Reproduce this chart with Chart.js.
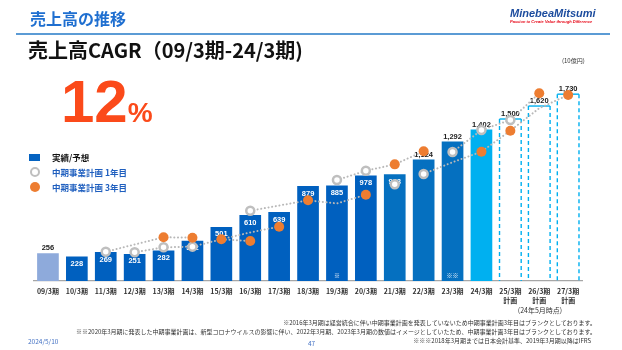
<!DOCTYPE html>
<html lang="ja">
<head>
<meta charset="utf-8">
<script src="https://cdn.jsdelivr.net/npm/chart.js@4/dist/chart.umd.min.js"></script>
<style>
  html, body { margin: 0; padding: 0; background: #fff; }
  #page { position: relative; width: 622px; height: 350px; overflow: hidden; font-family: "Noto Sans CJK JP", sans-serif; }
  #chart { position: absolute; left: 0; top: 0; }
  .abs { position: absolute; white-space: nowrap; line-height: 1; }
  #title { left: 30px; top: 10px; font-size: 16px; font-weight: 700; color: #1f6fd0; }
  #rule { left: 16px; top: 33px; width: 594px; height: 1.5px; background: #5b9bd5; }
  #logo { left: 510px; top: 7px; font: italic bold 11px "Liberation Sans", sans-serif; color: #1c4c9e; }
  #tagline { left: 510px; top: 19px; font: italic bold 4px "Liberation Sans", sans-serif; color: #e60012; }
  #subtitle { left: 28px; top: 40px; font-size: 20px; font-weight: 700; color: #111; }
  #unit { left: 562px; top: 58px; font-size: 6px; color: #333; }
  #cagr { left: 61px; top: 72px; font: bold 60px "Liberation Sans", sans-serif; color: #fb4a1a; line-height: 60px; }
  #cagr span { font-size: 28px; }
  .legend-text { font-size: 8.5px; font-weight: 700; color: #1f5fbf; transform: translateY(-50%); }
  #lg-rect { left: 29px; top: 154px; width: 11px; height: 7px; background: #0563c1; }
  #lg-ring { left: 30px; top: 167px; width: 6px; height: 6px; border: 2.5px solid #bfbfbf; border-radius: 50%; background: #fff; }
  #lg-dot { left: 30px; top: 182px; width: 10px; height: 10px; border-radius: 50%; background: #ed7d31; }
  #asof { left: 540px; top: 307px; font-size: 7px; color: #333; transform: translateX(-50%); }
  .note { right: 26px; font-size: 6px; color: #333; }
  #date { left: 28px; top: 338px; font-size: 6.5px; color: #4472c4; }
  #pageno { left: 308px; top: 340px; font-size: 6.5px; color: #4472c4; }
</style>
</head>
<body>
<div id="page">
  <canvas id="chart" width="622" height="350"></canvas>
  <div class="abs" id="title">売上高の推移</div>
  <div class="abs" id="rule"></div>
  <div class="abs" id="logo">MinebeaMitsumi</div>
  <div class="abs" id="tagline">Passion to Create Value through Difference</div>
  <div class="abs" id="subtitle">売上高CAGR（09/3期-24/3期)</div>
  <div class="abs" id="unit">(10億円)</div>
  <div class="abs" id="cagr">12<span>%</span></div>

  <div class="abs" id="lg-rect"></div>
  <div class="abs legend-text" style="left:52px; top:157px; color:#111;">実績/予想</div>
  <div class="abs" id="lg-ring"></div>
  <div class="abs legend-text" style="left:52px; top:172px;">中期事業計画 1年目</div>
  <div class="abs" id="lg-dot"></div>
  <div class="abs legend-text" style="left:52px; top:187px;">中期事業計画 3年目</div>

  <div class="abs" id="asof">(24年5月時点)</div>
  <div class="abs note" style="top:320px;">※2016年3月期は経営統合に伴い中期事業計画を発表していないため中期事業計画3年目はブランクとしております。</div>
  <div class="abs note" style="top:329px;">※※2020年3月期に発表した中期事業計画は、新型コロナウイルスの影響に伴い、2022年3月期、2023年3月期の数値はイメージとしていたため、中期事業計画3年目はブランクとしております。</div>
  <div class="abs note" style="top:338px; right:31px;">※※※2018年3月期までは日本会計基準、2019年3月期以降はIFRS</div>
  <div class="abs" id="date">2024/5/10</div>
  <div class="abs" id="pageno">47</div>
</div>

<script>
// ============================================
// DATA
// ============================================
const categories = [
    "09/3期", "10/3期", "11/3期", "12/3期", "13/3期", "14/3期", "15/3期",
    "16/3期", "17/3期", "18/3期", "19/3期", "20/3期", "21/3期", "22/3期",
    "23/3期", "24/3期", ["25/3期", "計画"], ["26/3期", "計画"], ["27/3期", "計画"]
];

// 実績/予想 (10億円)
const salesValues = [256, 228, 269, 251, 282, 372, 501, 610, 639, 879, 885, 978, 988, 1124, 1292, 1402, 1500, 1620, 1730];

// 中期事業計画 1年目 / 3年目 targets
const planYear1 = [null, null, 271, 266, 312, 318, null, 651, null, null, 935, 1021, 895, 991, 1194, 1398, 1491, null, null];
const planYear3 = [null, null, null, null, 405, 401, 386, 370, 503, 747, null, 799, 1080, 1201, null, 1197, 1392, 1738, 1722];

// Dotted paths linking each mid-term plan
const planPathA = [null, null, 271, null, 405, 401, null, null, null, null, null, null, null, null, null, null, null, null, null];
const planPathB = [null, null, null, 266, 312, 318, 386, 370, null, null, null, null, null, null, null, null, null, null, null];
const planPathC = [null, null, null, null, null, null, 386, 450, 503, null, null, null, null, null, null, null, null, null, null];
const planPathD = [null, null, null, null, null, null, null, 651, null, 747, null, null, null, null, null, null, null, null, null];
const planPathE = [null, null, null, null, null, null, null, null, null, 747, 718, 799, null, null, null, null, null, null, null];
const planPathF = [null, null, null, null, null, null, null, null, null, null, 935, 1021, 1080, 1201, null, null, null, null, null];
const planPathG = [null, null, null, null, null, null, null, null, null, null, null, null, null, 991, 1100, 1197, 1392, 1600, 1722];
const planPathH = [null, null, null, null, null, null, null, null, null, null, null, null, null, null, 1194, 1398, 1491, 1738, null];

// Footnote marks under bars (※)
const barNotes = [null, null, null, null, null, null, null, null, null, null, "※", null, null, null, "※※", null, null, null, null];

// ============================================
// HELPERS
// ============================================
const isPlanned = categories.map(c => Array.isArray(c));

function barColor(i) {
    if (isPlanned[i]) return "rgba(0,0,0,0)";
    if (i === 0) return "#8eaadb";
    if (i === 15) return "#00b0f0";
    if (i >= 12) return "#0570c0";
    return "#0060bf";
}

function pathDataset(values) {
    return {
        type: "line",
        data: values,
        spanGaps: true,
        borderColor: "#b8b8b8",
        borderWidth: 2,
        borderDash: [0.1, 3.6],
        borderCapStyle: "round",
        pointRadius: 0,
        fill: false,
        order: 2
    };
}

// Draws value labels, ※ marks and dashed outlines of planned bars
const barDecorPlugin = {
    id: "barDecor",
    afterDatasetDraw(chart, args) {
        if (args.index !== 0) return;
        const ctx = chart.ctx;
        const meta = args.meta;
        ctx.save();
        meta.data.forEach((bar, i) => {
            const p = bar.getProps(["x", "y", "base", "width"], true);
            const left = p.x - p.width / 2;
            const right = p.x + p.width / 2;

            if (isPlanned[i]) {
                ctx.strokeStyle = "#00b0f0";
                ctx.lineWidth = 1.4;
                ctx.setLineDash([]);
                ctx.beginPath();
                ctx.moveTo(left, p.y);
                ctx.lineTo(right, p.y);
                ctx.stroke();
                ctx.setLineDash([4, 3]);
                ctx.beginPath();
                ctx.moveTo(left, p.y);
                ctx.lineTo(left, p.base);
                ctx.moveTo(right, p.y);
                ctx.lineTo(right, p.base);
                ctx.stroke();
                ctx.setLineDash([]);
            }

            const above = i === 0 || i >= 13;
            ctx.font = 'bold 7.5px "Liberation Sans", sans-serif';
            ctx.textAlign = "center";
            ctx.textBaseline = "middle";
            ctx.fillStyle = above ? "#222" : "#fff";
            const label = salesValues[i].toLocaleString("en-US");
            ctx.fillText(label, p.x, above ? p.y - 5 : p.y + 7.5);

            if (barNotes[i]) {
                ctx.font = '6px "Noto Sans CJK JP", sans-serif';
                ctx.fillStyle = "#fff";
                ctx.fillText(barNotes[i], p.x, p.base - 5);
            }
        });
        ctx.restore();
    }
};

// ============================================
// CHART
// ============================================
const ctx = document.getElementById("chart").getContext("2d");
new Chart(ctx, {
    data: {
        labels: categories,
        datasets: [
            {
                type: "bar",
                data: salesValues,
                backgroundColor: categories.map((_, i) => barColor(i)),
                borderWidth: 0,
                barPercentage: 0.75,
                categoryPercentage: 1,
                order: 3
            },
            pathDataset(planPathA),
            pathDataset(planPathB),
            pathDataset(planPathC),
            pathDataset(planPathD),
            pathDataset(planPathE),
            pathDataset(planPathF),
            pathDataset(planPathG),
            pathDataset(planPathH),
            {
                type: "line",
                data: planYear1,
                showLine: false,
                pointRadius: 4,
                pointBackgroundColor: "#ffffff",
                pointBorderColor: "#bfbfbf",
                pointBorderWidth: 2.5,
                order: 1
            },
            {
                type: "line",
                data: planYear3,
                showLine: false,
                pointRadius: 5,
                pointBackgroundColor: "#ed7d31",
                pointBorderWidth: 0,
                order: 0
            }
        ]
    },
    options: {
        responsive: false,
        animation: false,
        layout: { padding: { left: 33.5, right: 39.4, top: 65, bottom: 39 } },
        plugins: {
            legend: { display: false },
            tooltip: { enabled: false }
        },
        scales: {
            x: {
                grid: { display: false, drawTicks: false },
                border: { color: "#a6a6a6", width: 1.2 },
                ticks: {
                    color: "#333",
                    padding: 6,
                    autoSkip: false,
                    maxRotation: 0,
                    font: { family: '"Noto Sans CJK JP", sans-serif', size: 7, weight: "bold", lineHeight: 1.25 }
                },
                afterFit(scale) { scale.height = 30; }
            },
            y: {
                display: false,
                min: 0,
                max: 2000
            }
        }
    },
    plugins: [barDecorPlugin]
});
</script>
</body>
</html>
